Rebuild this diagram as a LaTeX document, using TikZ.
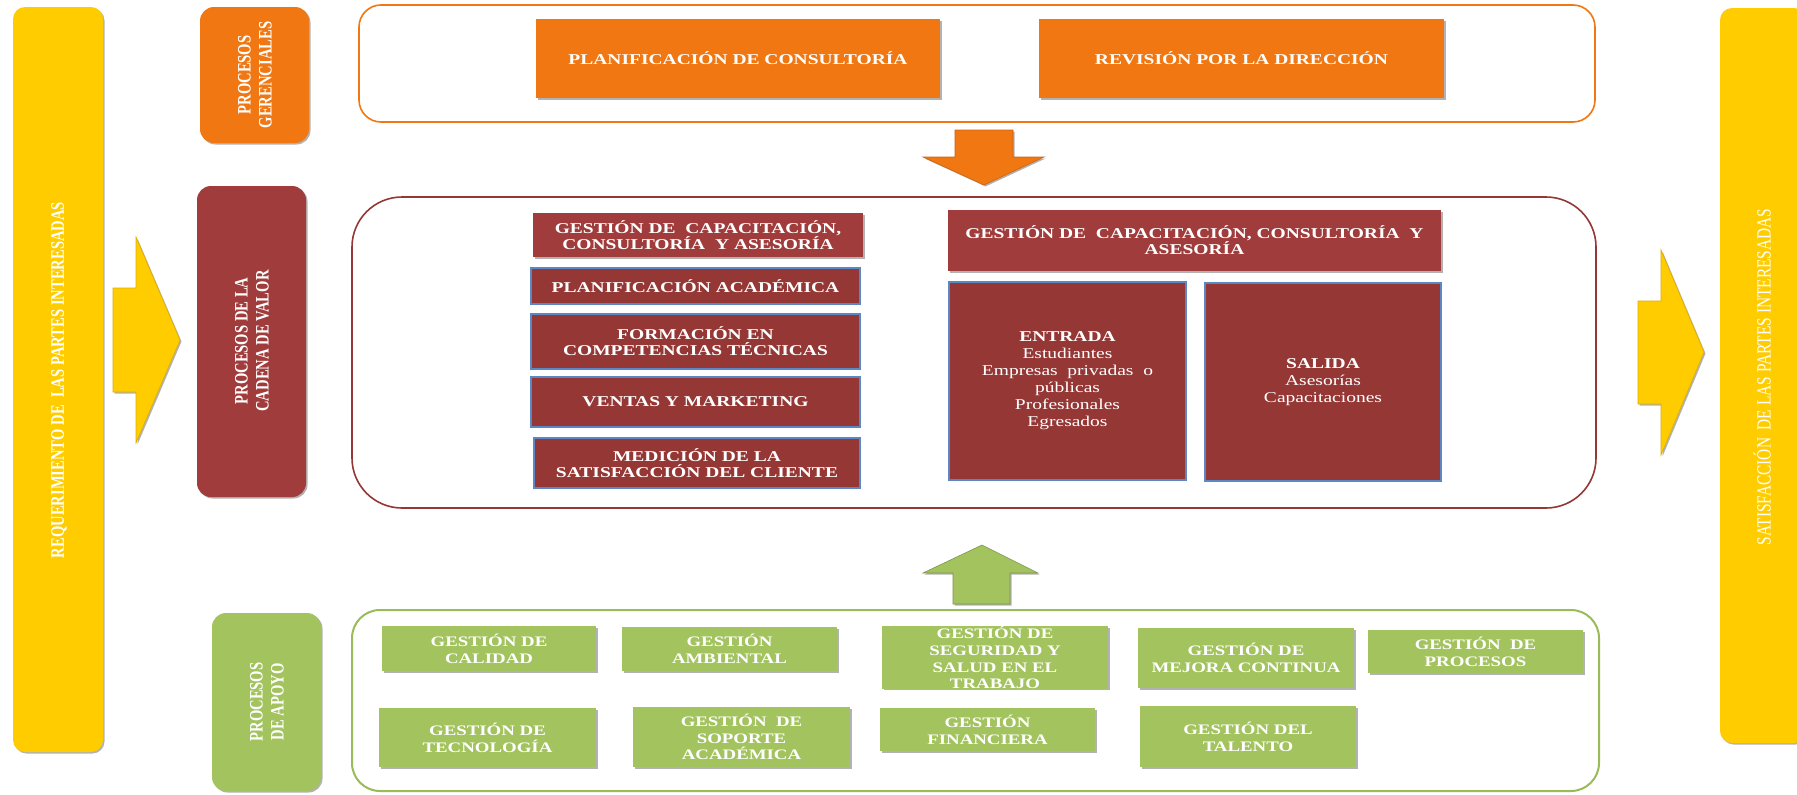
\documentclass[tikz,border=0pt]{standalone}
\usepackage{fontspec}
\setmainfont{Liberation Serif}
\newfontfamily\hfont[FakeStretch=1.3]{Liberation Serif}
\newfontfamily\vfont[FakeStretch=0.77]{Liberation Serif}
\usetikzlibrary{shadows}
\definecolor{yel}{HTML}{FFCC00}
\definecolor{yeld}{HTML}{E0AE00}
\definecolor{org}{HTML}{F07712}
\definecolor{dred}{HTML}{953735}
\definecolor{sred}{HTML}{A03C3B}
\definecolor{bluebd}{HTML}{5B87C5}
\definecolor{grn}{HTML}{A3C35F}
\definecolor{grnl}{HTML}{9BBB59}
\tikzset{
 shd/.style={drop shadow={shadow xshift=1.5pt, shadow yshift=-1.5pt, opacity=0.3, fill=black}},
 sidebar/.style={fill=yel, rounded corners=12pt, shd, inner sep=0pt},
 sidebox/.style={rounded corners=14pt, shd, inner sep=0pt},
 htext/.style={font=\hfont\bfseries\fontsize{15}{16}\selectfont, align=center, text=white},
 vtext/.style={font=\vfont\bfseries\fontsize{19}{21}\selectfont, align=center, text=white, rotate=90, inner sep=0pt},
 vtextlight/.style={font=\vfont\fontsize{20}{21}\selectfont, align=center, text=white, rotate=90, inner sep=0pt},
 obox/.style={fill=org, shd, inner sep=0pt, htext},
 rbox/.style={fill=sred, shd, inner sep=0pt, htext},
 bbox/.style={fill=dred, draw=bluebd, line width=1.5pt, inner sep=0pt, htext},
 gbox/.style={fill=grn, shd, inner sep=0pt, htext, font=\hfont\bfseries\fontsize{14.5}{16.7}\selectfont},
 ptext/.style={font=\hfont\fontsize{15}{17}\selectfont, align=center, text=white, inner sep=0pt},
 frame/.style={line width=1.6pt, fill=white},
 blockarrow/.style={line width=0.6pt, shd},
}
% name, style, x1, y1, x2, y2, text
\newcommand{\pbox}[7]{\node[#2, minimum width={(#5-#3)*1pt}, minimum height={(#6-#4)*1pt}] (#1) at ({(#3+#5)/2},{(#4+#6)/2}) {#7};}
\begin{document}
\begin{tikzpicture}[x=1pt,y=-1pt]
\useasboundingbox (0,0) rectangle (1797,795);
\clip (0,0) rectangle (1797,795);
\fill[white] (0,0) rectangle (1797,795);

% side bars
\pbox{req}{sidebar}{13}{7}{103}{752}{}
\node[vtext] (reqt) at (59,380) {REQUERIMIENTO DE\ \ LAS PARTES INTERESADAS};
\pbox{sat}{sidebar}{1720}{8}{1806}{743}{}
\node[vtextlight] (satt) at (1762,377) {SATISFACCIÓN\ \ DE LAS PARTES INTERESADAS};

% frames
\draw[frame, draw=org, rounded corners=22pt] (359,5) rectangle (1595,122);
\draw[frame, draw=dred, rounded corners=50pt] (352,197) rectangle (1596,508);
\draw[frame, draw=grnl, line width=2pt, rounded corners=28pt] (352,610) rectangle (1599,791);

% side labels
\pbox{gerb}{sidebox, fill=org}{200}{7}{309}{143}{}
\node[vtext] (gert) at (255,75) {PROCESOS\\GERENCIALES};
\pbox{cadb}{sidebox, fill=sred}{197}{186}{306}{497}{}
\node[vtext] (cadt) at (252,341) {PROCESOS DE LA\\CADENA DE VALOR};
\pbox{apob}{sidebox, fill=grn}{212}{613}{321}{791}{}
\node[vtext] (apot) at (267,702) {PROCESOS\\DE APOYO};

% managerial processes
\pbox{plan}{obox}{536}{19}{940}{98}{PLANIFICACIÓN DE CONSULTORÍA}
\pbox{rev}{obox}{1039}{19}{1444}{98}{REVISIÓN POR LA DIRECCIÓN}

% value chain left column
\pbox{gca}{rbox}{533}{213}{863}{257}{GESTIÓN DE\ \ CAPACITACIÓN,\\CONSULTORÍA\ \ Y ASESORÍA}
\pbox{pla}{bbox}{531}{268}{860}{304}{PLANIFICACIÓN ACADÉMICA}
\pbox{for}{bbox}{531}{314}{860}{369}{FORMACIÓN EN\\COMPETENCIAS TÉCNICAS}
\pbox{ven}{bbox}{531}{377}{860}{427}{VENTAS Y MARKETING}
\pbox{med}{bbox}{534}{438}{860}{488}{MEDICIÓN DE LA\\SATISFACCIÓN DEL CLIENTE}

% value chain right
\pbox{gcb}{rbox}{948}{210}{1441}{271}{GESTIÓN DE\ \ CAPACITACIÓN, CONSULTORÍA\ \ Y\\ASESORÍA}
\pbox{ent}{bbox, font=\hfont\fontsize{15}{17}\selectfont}{949}{282}{1186}{480}{{\bfseries ENTRADA}\\Estudiantes\\Empresas\ \ privadas\ \ o\\públicas\\Profesionales\\Egresados}
\pbox{sal}{bbox, font=\hfont\fontsize{15}{17}\selectfont}{1205}{283}{1441}{481}{{\bfseries SALIDA}\\Asesorías\\Capacitaciones}

% support processes
\pbox{cal}{gbox}{382}{626}{596}{671}{GESTIÓN DE\\CALIDAD}
\pbox{amb}{gbox}{622}{627}{837}{671}{GESTIÓN\\AMBIENTAL}
\pbox{seg}{gbox}{882}{627}{1108}{688}{GESTIÓN DE\\SEGURIDAD Y\\SALUD EN EL\\TRABAJO}
\pbox{mej}{gbox}{1138}{628}{1354}{688}{GESTIÓN DE\\MEJORA CONTINUA}
\pbox{pro}{gbox}{1368}{630}{1583}{673}{GESTIÓN\ \ DE\\PROCESOS}
\pbox{tec}{gbox}{379}{708}{596}{767}{GESTIÓN DE\\TECNOLOGÍA}
\pbox{sop}{gbox}{633}{707}{850}{767}{GESTIÓN\ \ DE\\SOPORTE\\ACADÉMICA}
\pbox{fin}{gbox}{880}{708}{1095}{751}{GESTIÓN\\FINANCIERA}
\pbox{tal}{gbox}{1140}{706}{1356}{767}{GESTIÓN DEL\\TALENTO}

% block arrows
\filldraw[blockarrow, fill=yel, draw=yeld] (113,288) -- (136,288) -- (136,237) -- (180,340) -- (136,443) -- (136,392) -- (113,392) -- cycle;
\filldraw[blockarrow, fill=yel, draw=yeld] (1638,301) -- (1661,301) -- (1661,250) -- (1704,352) -- (1661,455) -- (1661,404) -- (1638,404) -- cycle;
\filldraw[blockarrow, fill=org, draw=org!85!black] (955,130) -- (1013,130) -- (1013,157) -- (1044,157) -- (984,185) -- (923,157) -- (955,157) -- cycle;
\filldraw[blockarrow, fill=grn, draw=grnl!80!black] (953,604) -- (1010,604) -- (1010,573) -- (1038,573) -- (982,545) -- (923,573) -- (953,573) -- cycle;
\end{tikzpicture}
\end{document}
